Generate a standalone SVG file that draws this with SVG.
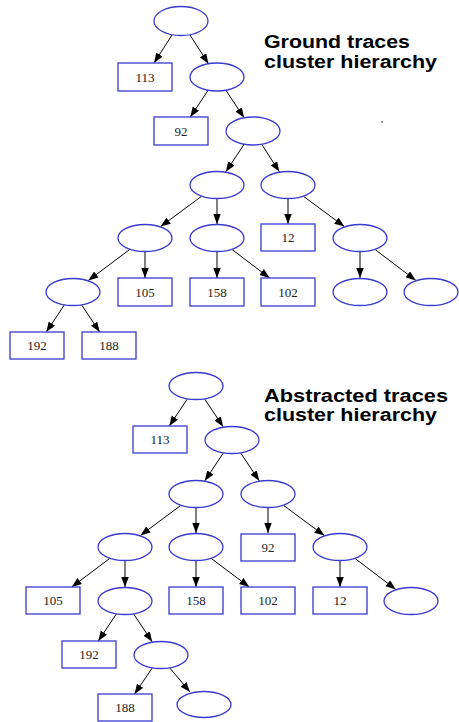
<svg xmlns="http://www.w3.org/2000/svg" width="459" height="722" viewBox="0 0 459 722">
<defs>
<marker id="ah" markerWidth="10" markerHeight="8" refX="10" refY="3.75" orient="auto" markerUnits="userSpaceOnUse">
<path d="M0,0 L10,3.75 L0,7.5 z" fill="#000"/>
</marker>
<style>
.n ellipse, .n rect { fill: #fff; stroke: #3a3ad0; stroke-width: 1.3; }
.n text { font-family: "Liberation Serif", "Times New Roman", serif; font-size: 13px; fill: #222; text-anchor: middle; }
#edges line { stroke: #000; stroke-width: 1; marker-end: url(#ah); }
.title { font-family: "Liberation Sans", Arial, sans-serif; font-weight: bold; font-size: 18px; fill: #000; }
</style>
</defs>
<rect width="459" height="722" fill="#fff"/>

<g id="edges">
<!-- top tree -->
<line x1="172.5" y1="34.3" x2="154" y2="63"/>
<line x1="189.5" y1="34.3" x2="208.5" y2="63.7"/>
<line x1="208.2" y1="90.2" x2="190.3" y2="117"/>
<line x1="225.8" y1="90.2" x2="244.2" y2="117.8"/>
<line x1="244.2" y1="144.2" x2="225.8" y2="171.8"/>
<line x1="261.6" y1="144.2" x2="279.4" y2="171.8"/>
<line x1="201.4" y1="196.4" x2="160.6" y2="226.6"/>
<line x1="217" y1="199" x2="217" y2="224"/>
<line x1="288" y1="199" x2="288" y2="224"/>
<line x1="303.6" y1="196.4" x2="344.4" y2="226.6"/>
<line x1="129.7" y1="249.5" x2="88.3" y2="280.5"/>
<line x1="145" y1="252" x2="145" y2="278"/>
<line x1="217" y1="252" x2="217" y2="278"/>
<line x1="232.2" y1="249.6" x2="269.6" y2="278"/>
<line x1="360" y1="252" x2="360" y2="278"/>
<line x1="375.2" y1="249.6" x2="415.8" y2="280.4"/>
<line x1="64.2" y1="305.2" x2="46.3" y2="332"/>
<line x1="81.8" y1="305.2" x2="99.7" y2="332"/>
<!-- bottom tree -->
<line x1="187.2" y1="399.2" x2="169.3" y2="426"/>
<line x1="204.8" y1="399.2" x2="223.2" y2="426.8"/>
<line x1="223.2" y1="453.2" x2="204.8" y2="480.8"/>
<line x1="240.8" y1="453.2" x2="259.2" y2="480.8"/>
<line x1="180.6" y1="505.5" x2="140.4" y2="535.5"/>
<line x1="196" y1="508" x2="196" y2="533"/>
<line x1="268" y1="508" x2="268" y2="533"/>
<line x1="283.6" y1="505.4" x2="324.4" y2="535.6"/>
<line x1="109.7" y1="558.5" x2="71.7" y2="587"/>
<line x1="125" y1="561" x2="125" y2="587"/>
<line x1="196" y1="561" x2="196" y2="587"/>
<line x1="211.3" y1="558.5" x2="249.3" y2="587"/>
<line x1="340" y1="561" x2="340" y2="587"/>
<line x1="355.2" y1="558.6" x2="395.8" y2="589.4"/>
<line x1="116.2" y1="614.2" x2="98.3" y2="641"/>
<line x1="133.8" y1="614.2" x2="152.2" y2="641.8"/>
<line x1="152.1" y1="668.2" x2="134.5" y2="694"/>
<line x1="170" y1="668.2" x2="190" y2="692"/>
</g>

<!-- top tree nodes -->
<g id="t0" class="n"><ellipse cx="181" cy="21" rx="27" ry="14.5"/></g>
<g id="t113" class="n"><rect x="118" y="63" width="54" height="28"/><text x="145" y="81.5">113</text></g>
<g id="t1" class="n"><ellipse cx="217" cy="77" rx="27" ry="14"/></g>
<g id="t92" class="n"><rect x="154" y="117" width="54" height="28"/><text x="181" y="135.5">92</text></g>
<g id="t2" class="n"><ellipse cx="253" cy="131" rx="27" ry="14"/></g>
<g id="t3" class="n"><ellipse cx="217" cy="185" rx="27" ry="13.5"/></g>
<g id="t4" class="n"><ellipse cx="288" cy="185" rx="27" ry="13.5"/></g>
<g id="t5" class="n"><ellipse cx="145" cy="238" rx="27" ry="13.5"/></g>
<g id="t6" class="n"><ellipse cx="217" cy="238" rx="27" ry="13.5"/></g>
<g id="t12" class="n"><rect x="261" y="224" width="54" height="27"/><text x="288" y="242">12</text></g>
<g id="t7" class="n"><ellipse cx="360" cy="238" rx="27" ry="13.5"/></g>
<g id="t8" class="n"><ellipse cx="73" cy="292" rx="27" ry="13.5"/></g>
<g id="t105" class="n"><rect x="118" y="278" width="54" height="28"/><text x="145" y="296.5">105</text></g>
<g id="t158" class="n"><rect x="190" y="278" width="54" height="28"/><text x="217" y="296.5">158</text></g>
<g id="t102" class="n"><rect x="261" y="278" width="54" height="28"/><text x="288" y="296.5">102</text></g>
<g id="t9" class="n"><ellipse cx="360" cy="292" rx="27" ry="13.5"/></g>
<g id="t10" class="n"><ellipse cx="431" cy="292" rx="27" ry="13.5"/></g>
<g id="t192" class="n"><rect x="10" y="332" width="54" height="27"/><text x="37" y="350">192</text></g>
<g id="t188" class="n"><rect x="82" y="332" width="54" height="27"/><text x="109" y="350">188</text></g>

<!-- bottom tree nodes -->
<g id="b0" class="n"><ellipse cx="196" cy="386" rx="27" ry="13.5"/></g>
<g id="b113" class="n"><rect x="133" y="426" width="54" height="27"/><text x="160" y="444">113</text></g>
<g id="b1" class="n"><ellipse cx="232" cy="440" rx="27" ry="13.5"/></g>
<g id="b2" class="n"><ellipse cx="196" cy="494" rx="27" ry="13.5"/></g>
<g id="b3" class="n"><ellipse cx="268" cy="494" rx="27" ry="13.5"/></g>
<g id="b4" class="n"><ellipse cx="125" cy="547" rx="27" ry="13.5"/></g>
<g id="b5" class="n"><ellipse cx="196" cy="547" rx="27" ry="13.5"/></g>
<g id="b92" class="n"><rect x="241" y="534" width="54" height="27"/><text x="268" y="552">92</text></g>
<g id="b6" class="n"><ellipse cx="340" cy="547" rx="27" ry="13.5"/></g>
<g id="b105" class="n"><rect x="26" y="587" width="54" height="27"/><text x="53" y="605">105</text></g>
<g id="b7" class="n"><ellipse cx="125" cy="601" rx="27" ry="13.5"/></g>
<g id="b158" class="n"><rect x="169" y="587" width="54" height="27"/><text x="196" y="605">158</text></g>
<g id="b102" class="n"><rect x="241" y="587" width="54" height="27"/><text x="268" y="605">102</text></g>
<g id="b12" class="n"><rect x="313" y="587" width="54" height="27"/><text x="340" y="605">12</text></g>
<g id="b8" class="n"><ellipse cx="411" cy="601" rx="27" ry="13.5"/></g>
<g id="b192" class="n"><rect x="62" y="641" width="54" height="27"/><text x="89" y="659">192</text></g>
<g id="b9" class="n"><ellipse cx="161" cy="655" rx="27" ry="13.5"/></g>
<g id="b188" class="n"><rect x="98" y="694" width="54" height="27"/><text x="125" y="712">188</text></g>
<g id="b10" class="n"><ellipse cx="204" cy="704.5" rx="27" ry="13"/></g>

<!-- titles -->
<g id="title-ground">
<text class="title" x="264" y="48" textLength="146" lengthAdjust="spacingAndGlyphs">Ground traces</text>
<text class="title" x="264" y="68" textLength="173" lengthAdjust="spacingAndGlyphs">cluster hierarchy</text>
</g>
<g id="title-abstracted">
<text class="title" x="264" y="402" textLength="184" lengthAdjust="spacingAndGlyphs">Abstracted traces</text>
<text class="title" x="264" y="421" textLength="173" lengthAdjust="spacingAndGlyphs">cluster hierarchy</text>
</g>
<rect x="381" y="121" width="2" height="2" fill="#999"/>
</svg>
